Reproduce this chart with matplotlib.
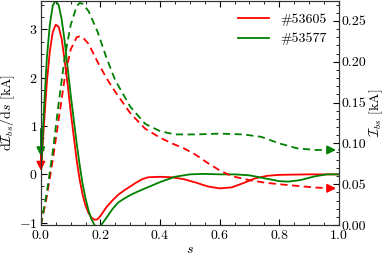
import numpy as np
import matplotlib
matplotlib.use("Agg")
import matplotlib.pyplot as plt
from matplotlib.ticker import MultipleLocator

plt.rcParams['font.family'] = 'serif'
plt.rcParams['font.serif'] = ['cmr10']
plt.rcParams['mathtext.fontset'] = 'cm'
plt.rcParams['axes.formatter.use_mathtext'] = True
plt.rcParams['font.size'] = 10

# dI_bs/ds (left axis), solid lines
s_red = [0.0, 0.01, 0.02, 0.03, 0.04, 0.05, 0.06, 0.07, 0.08, 0.09, 0.10, 0.11,
         0.12, 0.13, 0.14, 0.15, 0.16, 0.17, 0.18, 0.19, 0.20, 0.22, 0.24, 0.26,
         0.28, 0.30, 0.32, 0.34, 0.36, 0.40, 0.44, 0.48, 0.52, 0.56, 0.60, 0.64,
         0.68, 0.72, 0.76, 0.80, 0.90, 1.0]
d_red = [0.0, 1.0, 1.9, 2.55, 2.95, 3.1, 3.05, 2.8, 2.35, 1.85, 1.3, 0.8,
         0.3, -0.1, -0.42, -0.65, -0.8, -0.9, -0.94, -0.93, -0.86, -0.68, -0.54, -0.42,
         -0.33, -0.25, -0.17, -0.1, -0.06, -0.05, -0.06, -0.1, -0.17, -0.25, -0.29, -0.27,
         -0.18, -0.08, -0.03, -0.01, 0.0, 0.0]

s_green = [0.0, 0.01, 0.02, 0.03, 0.04, 0.05, 0.06, 0.07, 0.08, 0.09, 0.10, 0.11,
           0.12, 0.13, 0.14, 0.15, 0.16, 0.17, 0.18, 0.19, 0.20, 0.22, 0.24, 0.26,
           0.28, 0.30, 0.32, 0.35, 0.40, 0.45, 0.50, 0.55, 0.60, 0.65, 0.70, 0.75,
           0.80, 0.83, 0.87, 0.92, 0.96, 1.0]
d_green = [0.0, 1.3, 2.4, 3.1, 3.5, 3.6, 3.5, 3.2, 2.75, 2.2, 1.65, 1.15,
           0.65, 0.2, -0.2, -0.5, -0.75, -0.93, -1.05, -1.1, -1.07, -0.9, -0.72, -0.58,
           -0.5, -0.43, -0.37, -0.29, -0.16, -0.05, 0.0, 0.01, 0.0, 0.0, -0.02, -0.08,
           -0.14, -0.15, -0.12, -0.04, 0.0, 0.0]

# I_bs (right axis), dashed lines
s_red_i = [0.0, 0.02, 0.04, 0.06, 0.08, 0.10, 0.12, 0.13, 0.14, 0.16, 0.19, 0.22,
           0.25, 0.30, 0.35, 0.40, 0.44, 0.48, 0.52, 0.56, 0.60, 0.64, 0.70, 0.75,
           0.80, 0.86, 0.92, 0.97, 1.0]
i_red = [0.0, 0.035, 0.08, 0.13, 0.18, 0.215, 0.23, 0.231, 0.23, 0.222, 0.2, 0.18,
         0.163, 0.137, 0.118, 0.107, 0.1, 0.094, 0.086, 0.076, 0.067, 0.06, 0.055, 0.052,
         0.05, 0.048, 0.046, 0.045, 0.045]

s_green_i = [0.0, 0.02, 0.04, 0.06, 0.08, 0.10, 0.12, 0.13, 0.14, 0.16, 0.19, 0.22,
             0.25, 0.30, 0.35, 0.40, 0.45, 0.52, 0.60, 0.68, 0.74, 0.80, 0.86, 0.92, 1.0]
i_green = [0.0, 0.04, 0.09, 0.15, 0.205, 0.245, 0.268, 0.272, 0.271, 0.262, 0.237, 0.205,
           0.177, 0.145, 0.124, 0.115, 0.111, 0.111, 0.112, 0.111, 0.108, 0.1, 0.094, 0.092, 0.092]

labels = ['#53605', '#53577']

fig = plt.figure(figsize=(3.82, 2.59), dpi=100)
ax = fig.add_axes([0.107, 0.131, 0.78, 0.867])
ax2 = ax.twinx()

ax.plot(s_red, d_red, color='red', lw=1.3, label=labels[0])
ax.plot(s_green, d_green, color='green', lw=1.3, label=labels[1])
ax2.plot(s_red_i, i_red, color='red', lw=1.3, ls=(0, (4, 2.5)))
ax2.plot(s_green_i, i_green, color='green', lw=1.3, ls=(0, (4, 2.5)))

ax.set_xlim(0, 1)
ax.set_ylim(-1.05, 3.6)
ax2.set_ylim(0, 0.275)

# arrows telling which axis belongs to which line
ax.annotate('', xy=(0, 0.32), xytext=(0, 1.0), annotation_clip=False,
            arrowprops=dict(arrowstyle='-|>', color='green', lw=1.2, mutation_scale=13))
ax.annotate('', xy=(0, 0.02), xytext=(0, 0.45), annotation_clip=False,
            arrowprops=dict(arrowstyle='-|>', color='red', lw=1.2, mutation_scale=13))
ax2.annotate('', xy=(1.0, i_green[-1]), xytext=(0.96, i_green[-1]), annotation_clip=False,
             arrowprops=dict(arrowstyle='-|>', color='green', lw=1.2, mutation_scale=13))
ax2.annotate('', xy=(1.0, i_red[-1]), xytext=(0.96, i_red[-1]), annotation_clip=False,
             arrowprops=dict(arrowstyle='-|>', color='red', lw=1.2, mutation_scale=13))

ax.xaxis.set_major_locator(MultipleLocator(0.2))
ax.xaxis.set_minor_locator(MultipleLocator(0.05))
ax.yaxis.set_major_locator(MultipleLocator(1))
ax.yaxis.set_minor_locator(MultipleLocator(0.25))
ax2.yaxis.set_major_locator(MultipleLocator(0.05))
ax2.yaxis.set_minor_locator(MultipleLocator(0.01))
ax2.yaxis.set_major_formatter(plt.FormatStrFormatter('%.2f'))

ax.tick_params(which='both', direction='in', top=True, right=False)
ax.tick_params(which='major', length=4, pad=2.5)
ax.tick_params(which='minor', length=2)
ax2.tick_params(which='both', direction='in')
ax2.tick_params(which='major', length=4, pad=2)
ax2.tick_params(which='minor', length=2)

ax.set_xlabel(r'$s$', labelpad=2)
ax.set_ylabel(r'$\mathrm{d}\mathcal{I}_{bs}/\mathrm{d}s$ [kA]', labelpad=1)
ax2.set_ylabel(r'$\mathcal{I}_{bs}$ [kA]', labelpad=1)

ax.legend(loc='upper right', frameon=False, handlelength=2.2)

for a in (ax, ax2):
    for sp in a.spines.values():
        sp.set_color('#333333')

fig.savefig('out.png', dpi=100)
